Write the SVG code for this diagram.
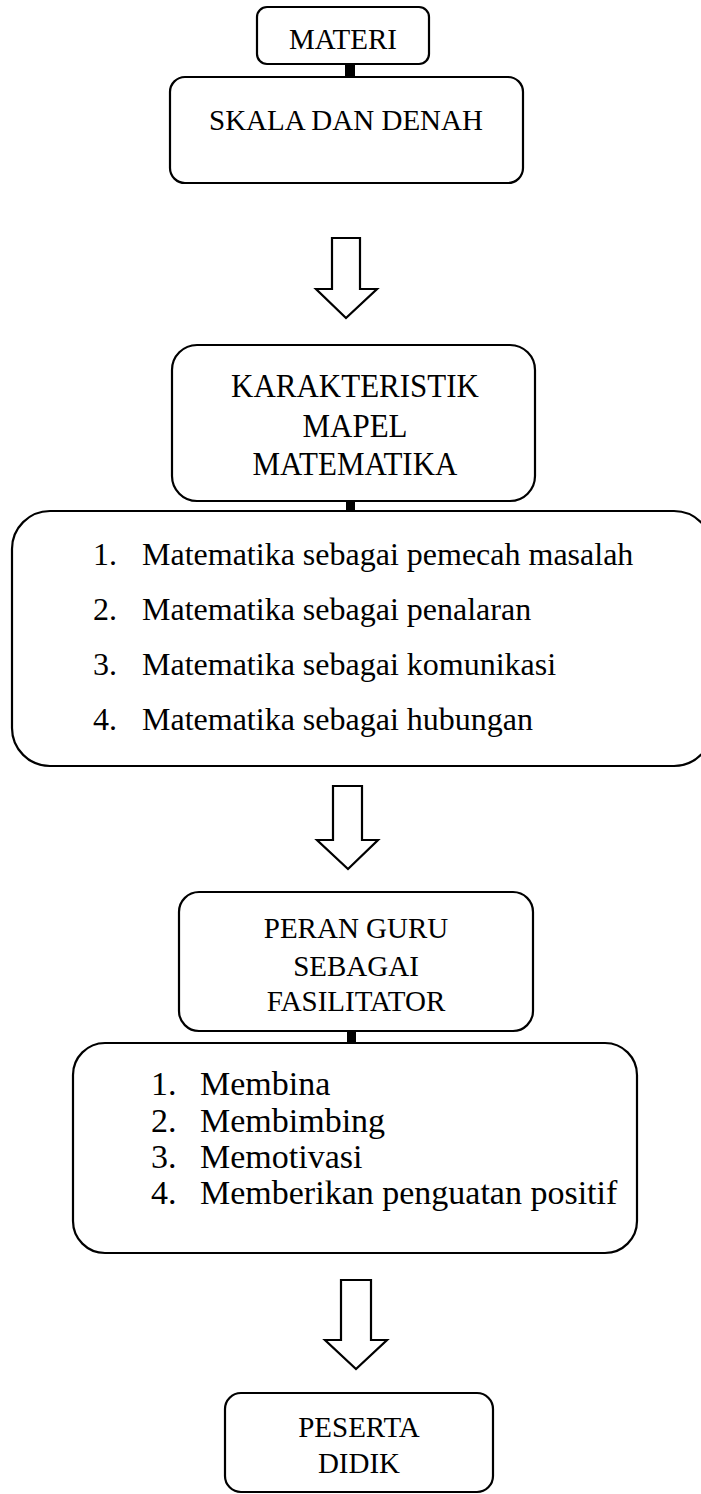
<svg xmlns="http://www.w3.org/2000/svg" width="701" height="1494" viewBox="0 0 701 1494">
<style>
.box{fill:#fff;stroke:#000;stroke-width:2.2}
.t{font-family:"Liberation Serif","Times New Roman",serif;font-size:29px;fill:#000}
.c{text-anchor:middle}
.l{font-size:32px}
.m{font-size:34px}
.k{font-size:31px}
.arr{fill:#fff;stroke:#000;stroke-width:2.2;stroke-linejoin:miter}
.sq{fill:#000}
</style>
<rect width="701" height="1494" fill="#fff"/>
<g id="connectors">
<rect class="sq" x="345" y="63" width="10" height="13"/>
<rect class="sq" x="346" y="500" width="9" height="11"/>
<rect class="sq" x="347" y="1030" width="9" height="13"/>
<polygon class="arr" points="332,238 360,238 360,289 377,289 346,318 316,289 332,289"/>
<polygon class="arr" points="333,786 362,786 362,840 378,840 348,869 317,840 333,840"/>
<polygon class="arr" points="341,1280 371,1280 371,1340 387,1340 356,1369 325,1340 341,1340"/>
</g>
<g id="materi">
<rect class="box" x="257" y="7" width="172" height="57" rx="10"/>
<text class="t c" x="343" y="49">MATERI</text>
</g>
<g id="skala">
<rect class="box" x="170" y="77" width="353" height="106" rx="15"/>
<text class="t c" x="346" y="130">SKALA DAN DENAH</text>
</g>
<g id="karakteristik">
<rect class="box" x="172" y="345" width="363" height="156" rx="25"/>
<text class="t c k" transform="translate(355,397) scale(1,1.12)">KARAKTERISTIK</text>
<text class="t c k" transform="translate(355,437) scale(1,1.12)">MAPEL</text>
<text class="t c k" transform="translate(355,475) scale(1,1.12)">MATEMATIKA</text>
</g>
<g id="list-karakteristik">
<rect class="box" x="12" y="511" width="700" height="255" rx="38"/>
<text class="t l" x="93" y="565">1.</text><text class="t l" x="142" y="565">Matematika sebagai pemecah masalah</text>
<text class="t l" x="93" y="620">2.</text><text class="t l" x="142" y="620">Matematika sebagai penalaran</text>
<text class="t l" x="93" y="675">3.</text><text class="t l" x="142" y="675">Matematika sebagai komunikasi</text>
<text class="t l" x="93" y="730">4.</text><text class="t l" x="142" y="730">Matematika sebagai hubungan</text>
</g>
<g id="peran">
<rect class="box" x="179" y="892" width="354" height="139" rx="20"/>
<text class="t c" x="356" y="938">PERAN GURU</text>
<text class="t c" x="356" y="976">SEBAGAI</text>
<text class="t c" x="356" y="1011">FASILITATOR</text>
</g>
<g id="list-peran">
<rect class="box" x="73" y="1043" width="564" height="210" rx="32"/>
<text class="t m" x="151" y="1095">1.</text><text class="t m" x="200" y="1095">Membina</text>
<text class="t m" x="151" y="1132">2.</text><text class="t m" x="200" y="1132">Membimbing</text>
<text class="t m" x="151" y="1168">3.</text><text class="t m" x="200" y="1168">Memotivasi</text>
<text class="t m" x="151" y="1204">4.</text><text class="t m" x="200" y="1204">Memberikan penguatan positif</text>
</g>
<g id="peserta">
<rect class="box" x="225" y="1393" width="268" height="99" rx="16"/>
<text class="t c" x="359" y="1437">PESERTA</text>
<text class="t c" x="359" y="1473">DIDIK</text>
</g>
</svg>
